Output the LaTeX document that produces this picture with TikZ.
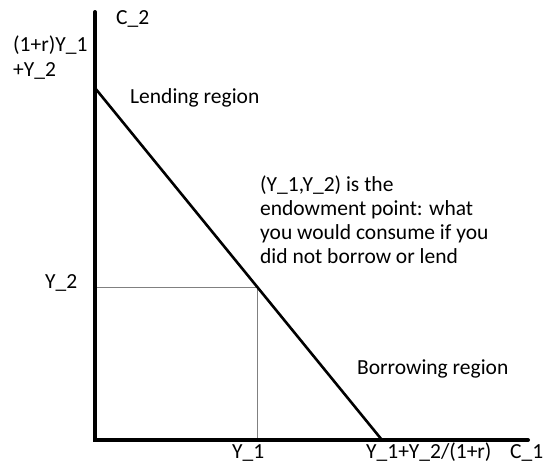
\documentclass[tikz,border=0pt]{standalone}
\usepackage{fontspec}
\setmainfont{Carlito}
\begin{document}
\begin{tikzpicture}[x=1pt,y=-1pt,
  lbl/.style={inner sep=0pt,anchor=base west,font=\fontsize{21.5}{24}\selectfont},
  axis/.style={line width=4pt,line cap=round},
  budget/.style={line width=2.6pt},
  guide/.style={line width=0.9pt,gray}]
\useasboundingbox (0,0) rectangle (544,472);
\coordinate (O) at (95,440);
\coordinate (ytop) at (95,12);
\coordinate (xend) at (528,440);
\coordinate (A) at (95,88);
\coordinate (B) at (382,440);
\coordinate (E) at (257,287);
\coordinate (Ey) at (95,287);
\coordinate (Ex) at (257,440);
\draw[guide] (Ey) -- (E) -- (Ex);
\draw[budget] (A) -- (B);
\draw[axis] (ytop) -- (O) -- (xend);
\node[lbl] (c2) at (116,24) {C\_2};
\node[lbl] (int1) at (13,51) {(1+r)Y\_1};
\node[lbl] (int2) at (13,76) {+Y\_2};
\node[lbl] (lend) at (130,103) {Lending region};
\node[lbl,align=left,anchor=north west] (note) at (260,176) {(Y\_1,Y\_2) is the\\endowment point: what\\you would consume if you\\did not borrow or lend};
\node[lbl] (y2) at (45,288) {Y\_2};
\node[lbl] (borrow) at (357,374) {Borrowing region};
\node[lbl] (y1) at (232,458) {Y\_1};
\node[lbl] (xint) at (366,458) {Y\_1+Y\_2/(1+r)};
\node[lbl] (c1) at (510,458) {C\_1};
\end{tikzpicture}
\end{document}
